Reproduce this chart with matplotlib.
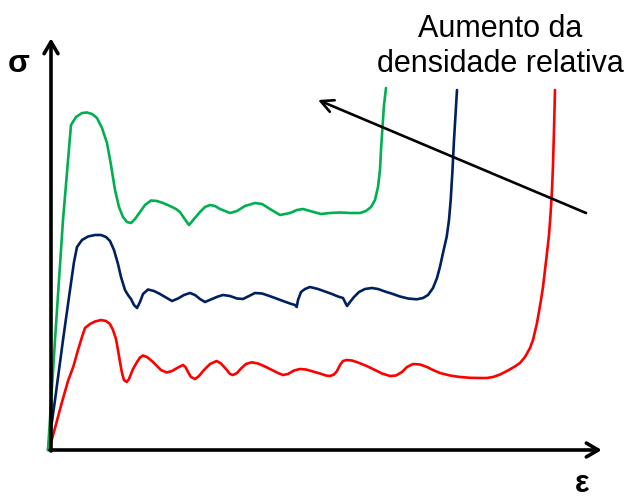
import matplotlib
matplotlib.use("Agg")
import matplotlib.pyplot as plt

# Schematic stress-strain curves of cellular solids at three relative densities
strain_low = [-2, 4, 11, 17, 22.3, 27, 31, 34, 39, 44, 50, 55, 59, 62, 65, 67, 69, 71, 73, 75.7,
              78, 80, 82, 86, 89, 92, 96, 99, 102, 106, 110, 115.7, 121, 127, 132, 134.5, 137, 140,
              144, 148, 153, 159, 165.7, 170, 175, 179, 182, 186, 190, 195, 200.7, 207, 214, 221,
              227, 232, 237, 243, 249, 255, 262, 269, 275, 279, 283, 286, 289, 292, 295.7, 301,
              307, 315.7, 324, 331, 339, 345, 351, 356, 362, 369, 376, 382, 389, 399, 409, 419,
              429, 436, 442, 449, 456, 463, 469, 474, 479, 482, 486, 490, 492, 494, 496, 498,
              499.5, 501, 502, 503, 504]
stress_low = [0, 22, 48, 69, 83.3, 100, 113, 122, 126, 128.5, 130, 129, 126, 120, 111, 100, 88, 77,
              70, 68, 71, 76, 81, 88, 92.5, 94.5, 93, 90.5, 88, 84, 80, 77.5, 79, 82.5, 85, 83, 78,
              73, 71, 74, 80, 86, 89, 86.5, 81, 76, 75, 77, 81.5, 86, 87.7, 86.5, 83.5, 80, 77, 75,
              76, 79.5, 81, 80.5, 78.5, 76.5, 74.5, 74, 75.5, 79, 85, 89, 90, 89.5, 87.5, 84, 80,
              76.5, 74, 74.5, 78, 83, 86, 85.5, 83, 80, 77, 74.5, 73, 72.2, 72, 72, 73, 75.5, 79,
              83, 87, 93, 102, 110, 127, 150, 163, 180, 197, 215, 235, 260, 285, 320, 360]

strain_mid = [-3, 4, 12, 19, 23, 26, 31, 37, 44, 50, 55, 59, 63, 67, 70, 74, 77, 80, 83, 86, 89,
              92, 97, 103, 109, 115, 121, 127, 133, 139, 144, 149, 154, 161, 167, 172, 179, 186,
              192, 198, 204, 211, 217, 224, 232, 239, 244, 245.7, 247, 250, 254, 259, 267, 274,
              281, 287, 292, 294, 296, 299, 303, 308, 314, 320.7, 327, 334, 341, 349, 357, 365.7,
              372, 377, 382, 386, 389, 392, 395.7, 398, 399.7, 401.5, 403, 404.5, 406]
stress_mid = [0, 50, 110, 160, 188, 203, 210, 213.5, 215, 215, 213, 209, 200, 186, 173, 160, 155,
              151, 145, 142, 148, 156, 160.5, 159, 156, 152.5, 149, 151.5, 155, 157, 155, 151, 148,
              151, 153.5, 155, 154, 151.5, 151, 154, 157, 156.5, 154.5, 152, 149, 146.5, 145, 143,
              150, 158, 161, 163, 161, 158.5, 156, 153.5, 152, 148, 144, 148, 153, 158, 161, 162,
              161, 158.5, 156.3, 153.5, 151.5, 150.7, 152, 155, 162, 172, 183.3, 197, 213.3, 230,
              250, 280, 310, 335, 360]

strain_high = [-3, 4, 12, 20, 25, 31, 36, 41, 46, 51, 56, 60, 64, 68, 72, 76, 80, 84, 89, 94, 100,
               106, 112, 119, 125, 129, 133, 138, 143, 149, 154, 159, 164, 169, 179, 186, 194, 204,
               211, 219, 229, 239, 246, 252, 259, 270, 279, 289, 299, 309, 315, 320, 324, 327, 329,
               330, 331.5, 333, 335]
stress_high = [0, 110, 230, 325, 333, 337, 337.5, 336, 332, 322, 307, 285, 260, 243, 233, 228, 227,
               231, 238, 245, 249.5, 249, 247, 244, 241, 238, 232, 225, 231, 238, 243, 245, 244, 241,
               237, 239, 244, 247, 246, 241, 235, 237, 240, 241, 239, 236, 237, 237.5, 237, 237,
               239, 243, 250, 263, 280, 300, 323, 345, 362]

series_colors = ["#FF0000", "#002060", "#00B050"]

# Trend arrow: higher relative density -> curves shift up and to the left
trend_start = (535, 237)
trend_end = (267, 350)
trend_label = ["Aumento da", "densidade relativa"]

fig = plt.figure(figsize=(6.27, 5.01), dpi=100)
ax = fig.add_axes([0, 0, 1, 1])
ax.set_xlim(-51, 576)
ax.set_ylim(-51, 450)
ax.axis("off")

for sx, sy, c in zip([strain_low, strain_mid, strain_high],
                     [stress_low, stress_mid, stress_high], series_colors):
    ax.plot(sx, sy, color=c, lw=1.9, solid_joinstyle="round", solid_capstyle="round")

# Axes drawn as arrows
axis_style = dict(arrowstyle="->,head_length=0.85,head_width=0.5", lw=2.6, color="black",
                  shrinkA=0, shrinkB=0)
ax.annotate("", xy=(550.7, 0), xytext=(-1, 0), arrowprops=axis_style)
ax.annotate("", xy=(0, 411.7), xytext=(0, -1), arrowprops=axis_style)

ax.annotate("", xy=trend_end, xytext=trend_start,
            arrowprops=dict(arrowstyle="->,head_length=0.9,head_width=0.45", lw=1.9,
                            color="black", shrinkA=0, shrinkB=0))

ax.text(449, 413.3, trend_label[0], ha="center", va="baseline", fontsize=22,
        family="Liberation Sans")
ax.text(449, 378.3, trend_label[1], ha="center", va="baseline", fontsize=22,
        family="Liberation Sans")

ax.text(-32, 386, "σ", ha="center", va="center", fontsize=23, fontweight="bold",
        family="Liberation Sans")
ax.text(531, -49, "ε", ha="center", va="bottom", fontsize=22, fontweight="bold",
        family="Liberation Sans")

fig.savefig("out.png", dpi=100)
